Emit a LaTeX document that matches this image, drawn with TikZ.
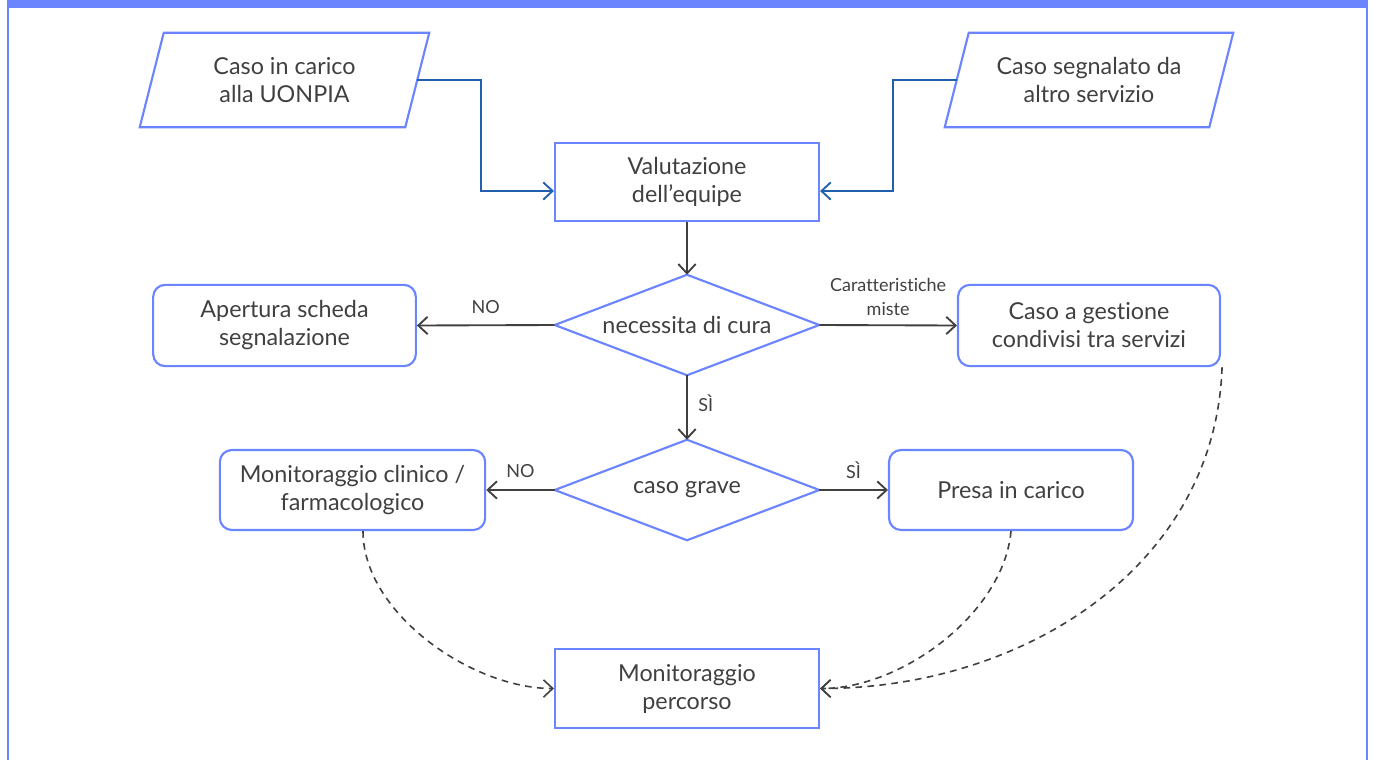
\documentclass[tikz,border=0pt]{standalone}
\usepackage{fontspec}
\setmainfont{Lato}[Ligatures=NoCommon]
\usetikzlibrary{shapes.geometric,arrows.meta,calc}
\definecolor{frameblue}{HTML}{6B84FF}
\definecolor{linkblue}{HTML}{1F5FAE}
\definecolor{txt}{HTML}{404040}
\begin{document}
\begin{tikzpicture}[x=0.75pt,y=-0.75pt,
  mainfont/.style={font=\fontsize{17.5}{21}\selectfont},
  box/.style={draw=frameblue,line width=1.6pt,minimum width=198pt,minimum height=58.5pt,
    align=center,text=txt,inner sep=0pt,mainfont},
  rbox/.style={box,rounded corners=9pt},
  pgram/.style={minimum width=198.75pt,minimum height=70.5pt,align=center,text=txt,inner sep=0pt,mainfont},
  shapeline/.style={draw=frameblue,line width=1.6pt,line join=miter},
  dia/.style={minimum width=198pt,minimum height=75pt,inner sep=0pt,text=txt,mainfont},
  flow/.style={draw=txt,line width=1.4pt,-{Straight Barb[length=7pt,width=13pt]}},
  bflow/.style={flow,draw=linkblue},
  dflow/.style={flow,line width=1.2pt,dash pattern=on 5pt off 4pt},
  lbl/.style={text=txt,font=\fontsize{13.5}{18}\selectfont,align=center,inner sep=1pt}
]
\useasboundingbox (0,0) rectangle (1373,760);
% frame
\fill[frameblue] (7,0) rectangle (1368,8);
\draw[frameblue,line width=2pt] (8,0) -- (8,760);
\draw[frameblue,line width=2pt] (1367,0) -- (1367,760);

% parallelograms
\node[pgram] (p1) at (284.5,80) {Caso in carico\\alla UONPIA};
\draw[shapeline] ($(p1.north west)+(12,0)$) -- ($(p1.north east)+(12,0)$)
  -- ($(p1.south east)+(-12,0)$) -- ($(p1.south west)+(-12,0)$) -- cycle;
\node[pgram,minimum width=198pt] (p2) at (1089,80) {Caso segnalato da\\altro servizio};
\draw[shapeline] ($(p2.north west)+(12,0)$) -- ($(p2.north east)+(12,0)$)
  -- ($(p2.south east)+(-12,0)$) -- ($(p2.south west)+(-12,0)$) -- cycle;

% nodes
\node[box] (v) at (687,182) {Valutazione\\dell’equipe};
\node[dia] (d1) at (687,325) {necessita di cura};
\draw[shapeline] (d1.north) -- (d1.east) -- (d1.south) -- (d1.west) -- cycle;
\node[rbox,minimum width=197pt,minimum height=61pt] (ap) at (284.5,325.5) {Apertura scheda\\segnalazione};
\node[rbox,minimum width=196.5pt,minimum height=61pt] (cg) at (1089,325.5) {Caso a gestione\\condivisi tra servizi};
\node[dia] (d2) at (687,490) {caso grave};
\draw[shapeline] (d2.north) -- (d2.east) -- (d2.south) -- (d2.west) -- cycle;
\node[rbox,minimum width=199pt,minimum height=60pt] (mc) at (352.5,490) {Monitoraggio clinico /\\farmacologico};
\node[rbox,minimum width=183pt,minimum height=60pt] (pr) at (1011,490) {Presa in carico};
\node[box,minimum height=59pt] (mp) at (687,688.5) {Monitoraggio\\percorso};

% connectors
\draw[bflow] (p1.east) -- ++(64,0) |- ($(v.west)+(0,9)$);
\draw[bflow] (p2.west) -- ++(-64,0) |- ($(v.east)+(0,9)$);
\draw[flow] (v.south) -- (d1.north);
\draw[flow] (d1.west) -- (ap.east) node[lbl,midway,yshift=14pt] {NO};
\draw[flow] (d1.east) -- (cg.west) node[lbl,midway,yshift=21.5pt] {Caratteristiche\\miste};
\draw[flow] (d1.south) -- (d2.north) node[lbl,midway,xshift=14pt,yshift=3pt] {SÌ};
\draw[flow] (d2.west) -- (mc.east) node[lbl,midway,yshift=14.5pt] {NO};
\draw[flow] (d2.east) -- (pr.west) node[lbl,midway,yshift=14.5pt] {SÌ};
\draw[dflow] ($(mc.south)+(10.5,0)$) to[out=-90,in=180,looseness=0.85] (mp.west);
\draw[dflow] (pr.south) to[out=-95,in=0,looseness=0.85] (mp.east);
\draw[dflow] ($(cg.south east)+(1,0)$) to[out=-92,in=0] (mp.east);
\end{tikzpicture}
\end{document}
